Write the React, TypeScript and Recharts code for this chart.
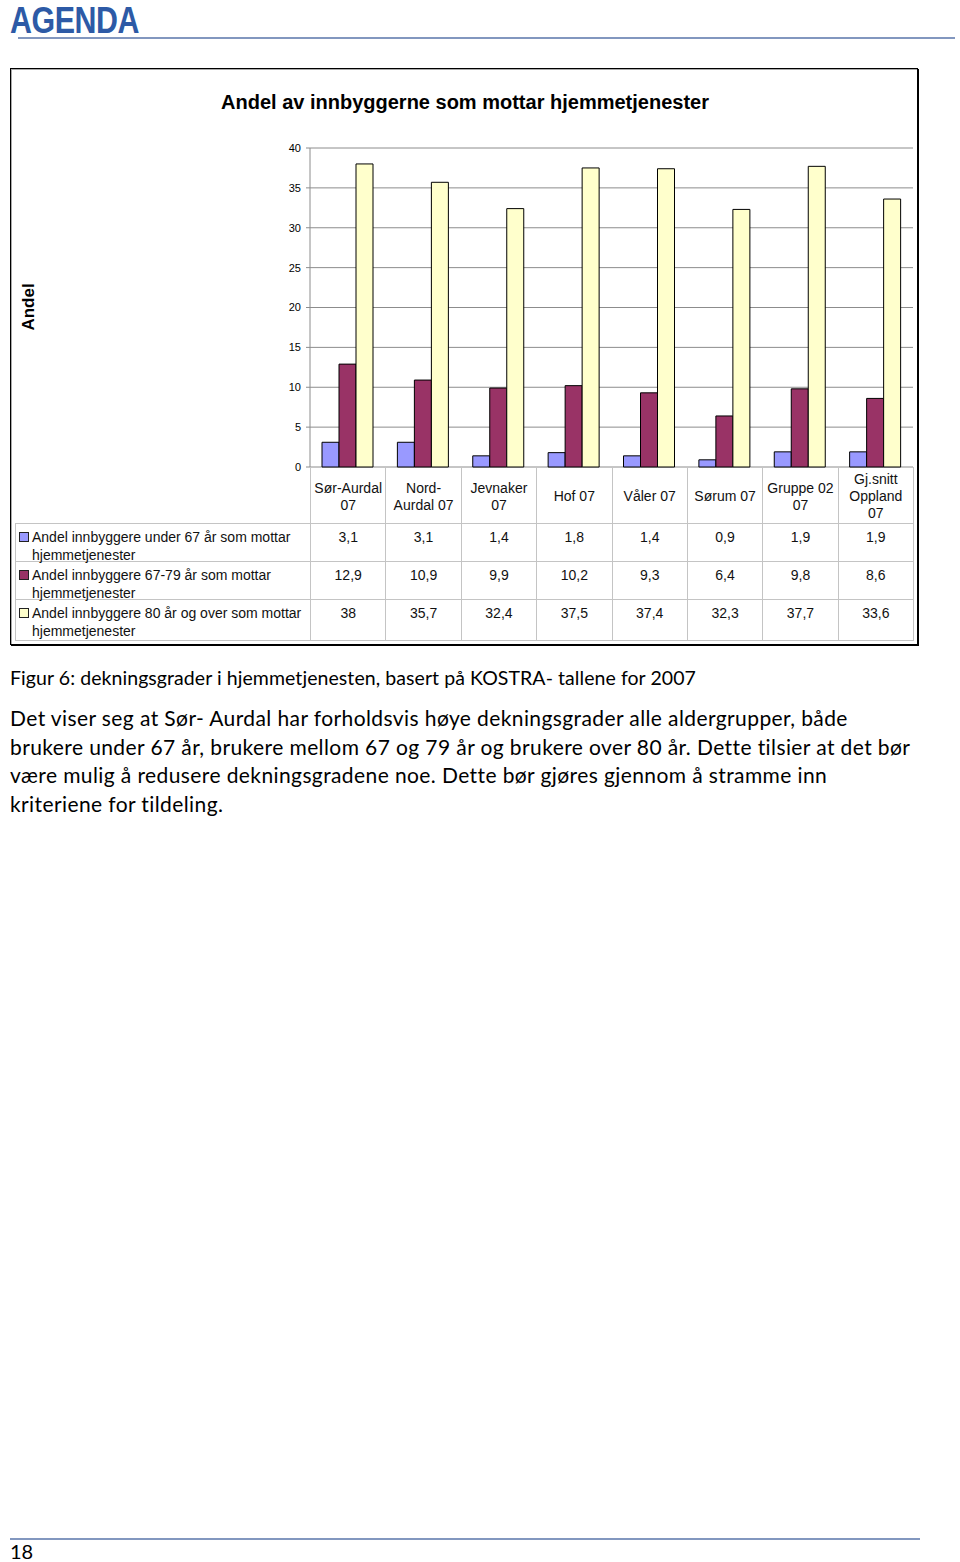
import React from "react";
import { Bar, BarChart, CartesianGrid, XAxis, YAxis } from "recharts";

const categories = [
  "Sør-Aurdal 07",
  "Nord-Aurdal 07",
  "Jevnaker 07",
  "Hof 07",
  "Våler 07",
  "Sørum 07",
  "Gruppe 02 07",
  "Gj.snitt Oppland 07",
];
// how the category names wrap inside the data table header
const categoryLines = [
  ["Sør-Aurdal", "07"],
  ["Nord-", "Aurdal 07"],
  ["Jevnaker", "07"],
  ["Hof 07"],
  ["Våler 07"],
  ["Sørum 07"],
  ["Gruppe 02", "07"],
  ["Gj.snitt", "Oppland", "07"],
];
const under67 = [3.1, 3.1, 1.4, 1.8, 1.4, 0.9, 1.9, 1.9];
const age67to79 = [12.9, 10.9, 9.9, 10.2, 9.3, 6.4, 9.8, 8.6];
const over80 = [38, 35.7, 32.4, 37.5, 37.4, 32.3, 37.7, 33.6];
const seriesNames = [
  "Andel innbyggere under 67 år som mottar hjemmetjenester",
  "Andel innbyggere 67-79 år som mottar hjemmetjenester",
  "Andel innbyggere 80 år og over som mottar hjemmetjenester",
];
const seriesColors = ["#9999ff", "#993366", "#ffffcc"];
const yTicks = [0, 5, 10, 15, 20, 25, 30, 35, 40];

const CHART_FONT = '"Liberation Sans", Arial, sans-serif';
const TEXT_FONT = 'Lato, "Open Sans", sans-serif';
const TABLE_LINE = "1px solid #c4c4c4";

const data = categories.map((name, i) => ({
  name,
  under67: under67[i],
  age67to79: age67to79[i],
  over80: over80[i],
}));
const seriesValues = [under67, age67to79, over80];

const fmt = (v: number) => String(v).replace(".", ",");

function DataTable() {
  const colW = 603 / categories.length;
  return (
    <table
      style={{
        position: "absolute",
        left: 15,
        top: 467,
        width: 898,
        borderCollapse: "collapse",
        tableLayout: "fixed",
        fontFamily: CHART_FONT,
        fontSize: 14,
        lineHeight: "17px",
        color: "#111",
      }}
    >
      <colgroup>
        <col style={{ width: 295 }} />
        {categories.map((c) => (
          <col key={c} style={{ width: colW }} />
        ))}
      </colgroup>
      <tbody>
        <tr style={{ height: 56 }}>
          <td style={{ padding: 0 }} />
          {categoryLines.map((lines, i) => (
            <td
              key={i}
              style={{
                borderLeft: TABLE_LINE,
                borderRight: TABLE_LINE,
                textAlign: "center",
                verticalAlign: "middle",
                padding: "4px 0 0 0",
              }}
            >
              {lines.map((l) => (
                <div key={l}>{l}</div>
              ))}
            </td>
          ))}
        </tr>
        {seriesNames.map((s, si) => (
          <tr key={s} style={{ height: si === 2 ? 41 : 38 }}>
            <td
              style={{
                border: TABLE_LINE,
                padding: "2px 2px 0 3px",
                verticalAlign: "top",
              }}
            >
              <div style={{ display: "flex", height: 34, lineHeight: "18px" }}>
                <span
                  style={{
                    flex: "none",
                    width: 8,
                    height: 8,
                    marginTop: 6,
                    marginRight: 3,
                    background: seriesColors[si],
                    border: "1px solid #222",
                  }}
                />
                <span style={{ position: "relative", top: 2 }}>{s}</span>
              </div>
            </td>
            {seriesValues[si].map((v, i) => (
              <td
                key={i}
                style={{
                  border: TABLE_LINE,
                  textAlign: "center",
                  verticalAlign: "top",
                  padding: "5px 0 0 0",
                }}
              >
                {fmt(v)}
              </td>
            ))}
          </tr>
        ))}
      </tbody>
    </table>
  );
}

export default function App() {
  return (
    <div
      style={{
        position: "absolute",
        left: 0,
        top: 0,
        width: 960,
        height: 1562,
        background: "#fff",
        overflow: "hidden",
      }}
    >
      {/* page header */}
      <div
        style={{
          position: "absolute",
          left: 10,
          top: 1,
          fontFamily: CHART_FONT,
          fontWeight: 700,
          fontSize: 37,
          lineHeight: "40px",
          color: "#2d5aa6",
          transform: "scaleX(0.82)",
          transformOrigin: "left",
          letterSpacing: -0.5,
        }}
      >
        AGENDA
      </div>
      <div
        style={{
          position: "absolute",
          left: 18,
          top: 37,
          width: 937,
          height: 2,
          background: "#8297bf",
        }}
      />

      {/* chart frame */}
      <div
        style={{
          position: "absolute",
          left: 10,
          top: 68,
          width: 908,
          height: 577,
          boxSizing: "border-box",
          border: "1px solid #000",
          boxShadow: "1px 1px 0 #000, inset 1px 1px 0 #aaa",
        }}
      />
      <div
        style={{
          position: "absolute",
          left: 10,
          top: 88,
          width: 910,
          textAlign: "center",
          fontFamily: CHART_FONT,
          fontWeight: 700,
          fontSize: 20,
          lineHeight: "28px",
          color: "#000",
        }}
      >
        Andel av innbyggerne som mottar hjemmetjenester
      </div>
      <div
        style={{
          position: "absolute",
          left: 29,
          top: 307,
          transform: "translate(-50%, -50%) rotate(-90deg)",
          fontFamily: CHART_FONT,
          fontWeight: 700,
          fontSize: 17,
          color: "#000",
          whiteSpace: "nowrap",
        }}
      >
        Andel
      </div>

      <div style={{ position: "absolute", left: 10, top: 68 }}>
        <BarChart
          width={908}
          height={412}
          data={data}
          margin={{ top: 80, right: 5, left: 0, bottom: 13 }}
          barGap={0}
          barSize={17}
          style={{ fontFamily: CHART_FONT }}
        >
          <CartesianGrid vertical={false} stroke="#8c8c8c" />
          <XAxis
            dataKey="name"
            height={0}
            tick={false}
            tickLine={false}
            axisLine={{ stroke: "#8c8c8c" }}
          />
          <YAxis
            width={300}
            domain={[0, 40]}
            ticks={yTicks}
            interval={0}
            tickSize={4}
            tickMargin={5}
            tick={{ fontSize: 11, fill: "#000" }}
            tickLine={{ stroke: "#8c8c8c" }}
            axisLine={{ stroke: "#8c8c8c" }}
          />
          <YAxis
            yAxisId="frame"
            orientation="right"
            width={0}
            domain={[0, 40]}
            tick={false}
            tickLine={false}
            axisLine={{ stroke: "#8c8c8c" }}
          />
          <Bar dataKey="under67" name={seriesNames[0]} fill={seriesColors[0]} stroke="#000" strokeWidth={1} isAnimationActive={false} />
          <Bar dataKey="age67to79" name={seriesNames[1]} fill={seriesColors[1]} stroke="#000" strokeWidth={1} isAnimationActive={false} />
          <Bar dataKey="over80" name={seriesNames[2]} fill={seriesColors[2]} stroke="#000" strokeWidth={1} isAnimationActive={false} />
        </BarChart>
      </div>

      <DataTable />

      {/* caption and body text */}
      <div
        style={{
          position: "absolute",
          left: 10,
          top: 665,
          fontFamily: TEXT_FONT,
          fontSize: 19.5,
          letterSpacing: 0.07,
          lineHeight: "26px",
          color: "#000",
          whiteSpace: "nowrap",
        }}
      >
        Figur 6: dekningsgrader i hjemmetjenesten, basert på KOSTRA- tallene for 2007
      </div>
      <div
        style={{
          position: "absolute",
          left: 10,
          top: 704,
          fontFamily: TEXT_FONT,
          fontSize: 21,
          letterSpacing: 0.4,
          lineHeight: "28.7px",
          color: "#000",
          whiteSpace: "nowrap",
        }}
      >
        <div>Det viser seg at Sør- Aurdal har forholdsvis høye dekningsgrader alle aldergrupper, både</div>
        <div>brukere under 67 år, brukere mellom 67 og 79 år og brukere over 80 år. Dette tilsier at det bør</div>
        <div>være mulig å redusere dekningsgradene noe. Dette bør gjøres gjennom å stramme inn</div>
        <div>kriteriene for tildeling.</div>
      </div>

      {/* page footer */}
      <div
        style={{
          position: "absolute",
          left: 10,
          top: 1538,
          width: 910,
          height: 2,
          background: "#8297bf",
        }}
      />
      <div
        style={{
          position: "absolute",
          left: 10,
          top: 1541,
          fontFamily: TEXT_FONT,
          fontSize: 20,
          lineHeight: "21px",
          color: "#000",
        }}
      >
        18
      </div>
    </div>
  );
}
